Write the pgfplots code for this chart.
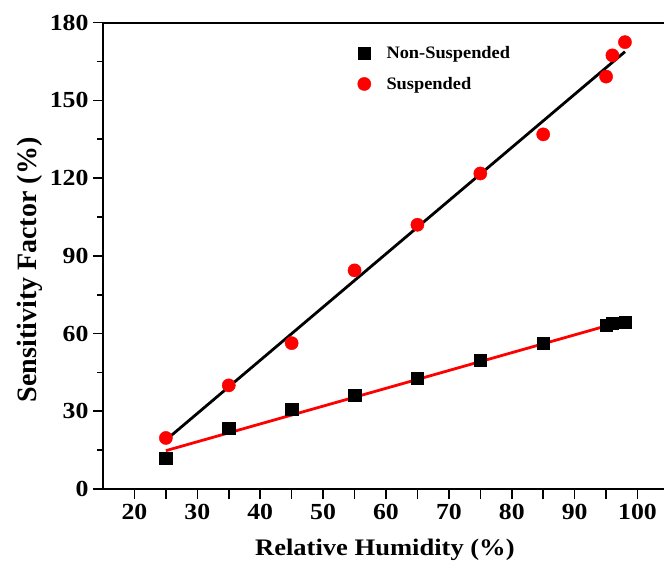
\documentclass[border=0pt]{standalone}
\usepackage{pgfplots}
\pgfplotsset{compat=1.18}
\usepackage{fontspec}
\setmainfont[FakeStretch=1.12]{Liberation Serif}
\newfontfamily\ylfont{Liberation Serif}
\newfontfamily\lgfont[FakeStretch=1.05]{Liberation Serif}
\begin{document}
\begin{tikzpicture}
\begin{axis}[
  scale only axis, width=566pt, height=466.3pt,
  xmin=15, xmax=105, ymin=0, ymax=180,
  xtick={20,30,...,100}, minor x tick num=1,
  ytick={0,30,...,180}, minor y tick num=1,
  tick pos=left, tick align=outside,
  major tick length=10pt, minor tick length=6pt,
  x tick style={/pgfplots/minor tick length=10pt},
  every tick/.style={black, line width=1.6pt},
  axis line style={line width=1.8pt},
  tick label style={font=\bfseries\fontsize{23}{25}\selectfont},
  /pgf/number format/assume math mode=true,
  xticklabel style={yshift=-2pt},
  yticklabel style={xshift=-1pt},
  xlabel={Relative Humidity (\%)},
  ylabel={Sensitivity Factor (\%)},
  xlabel style={font=\bfseries\fontsize{23.7}{26}\selectfont, at={(axis description cs:0.498,0)}, anchor=center, yshift=-61pt},
  ylabel style={font=\ylfont\bfseries\fontsize{28}{30}\selectfont, at={(axis description cs:-0.129,0.47)}, anchor=center},
  legend style={draw=none, fill=none, at={(axis description cs:0.438,0.958)}, anchor=north west,
    font=\lgfont\bfseries\fontsize{17.5}{20}\selectfont, row sep=13pt},
  legend image code/.code={\path (0pt,0pt) (30pt,0pt); \draw[mark repeat=2,mark phase=2] plot coordinates {(0pt,0pt)(10pt,0pt)(30pt,0pt)};},
  legend cell align=left,
]
\addplot[only marks, mark=square*, mark size=6.2pt, black, mark options={fill=black}] coordinates {
(25,12) (35,23.5) (45,30.8) (55,36.2) (65,42.8) (75,49.7) (85,56.2) (95,63.2) (96,64.1) (98,64.5)};
\addlegendentry{Non-Suspended}
\addplot[only marks, mark=*, mark size=6.6pt, red, mark options={fill=red, draw=red}] coordinates {
(25,19.7) (35,40) (45,56.3) (55,84.4) (65,102) (75,121.8) (85,136.9) (95,159.2) (96,167.4) (98,172.5)};
\addlegendentry{Suspended}
\addplot[red, line width=2.8pt, forget plot] coordinates {(25,14.8) (98,65)};
\addplot[black, line width=2.8pt, forget plot] coordinates {(25,18.9) (98,168.8)};
\end{axis}
\pgfresetboundingbox
\path[use as bounding box] (-103pt,-74pt) rectangle (561pt,489pt);
\end{tikzpicture}
\end{document}
